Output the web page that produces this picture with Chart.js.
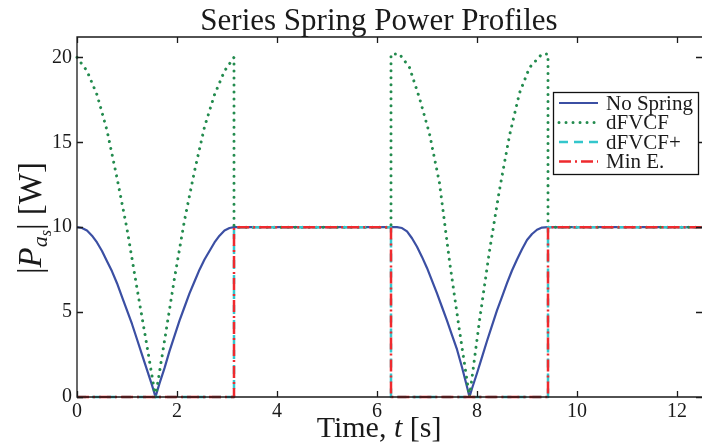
<!DOCTYPE html>
<html lang="en">
<head>
  <meta charset="UTF-8">
  <title>Series Spring Power Profiles</title>
  <script src="https://cdn.jsdelivr.net/npm/chart.js"></script>
  <style>
    body { margin: 0; background: #fff; }
    .grafico { width: 702px; height: 446px; }
  </style>
</head>
<body>
  <div class="grafico"><canvas id="id_grafico"></canvas></div>

<script>
// time axis [s] and actuator power |P_as| [W] for each profile
const tNoSpring = [0, 0.1, 0.2, 0.3, 0.4, 0.5, 0.6, 0.7, 0.8, 0.9, 1.0, 1.1, 1.2, 1.3, 1.4, 1.5, 1.57,
                   1.65, 1.75, 1.85, 1.95, 2.05, 2.15, 2.25, 2.35, 2.45, 2.55, 2.65, 2.75, 2.85, 2.95, 3.05, 3.14,
                   6.28, 6.4, 6.5, 6.6, 6.7, 6.8, 6.9, 7.0, 7.1, 7.2, 7.3, 7.4, 7.5, 7.6, 7.7, 7.8, 7.85,
                   7.9, 8.0, 8.1, 8.2, 8.3, 8.4, 8.5, 8.6, 8.7, 8.8, 8.9, 9.0, 9.1, 9.2, 9.3, 9.42, 12.57];
const pNoSpring = [10, 9.95, 9.8, 9.5, 9.1, 8.6, 8.0, 7.4, 6.7, 5.9, 5.1, 4.3, 3.4, 2.5, 1.6, 0.7, 0,
                   0.8, 1.7, 2.7, 3.6, 4.5, 5.3, 6.1, 6.8, 7.5, 8.1, 8.6, 9.1, 9.5, 9.8, 9.95, 10,
                   10, 10, 9.95, 9.75, 9.35, 8.85, 8.25, 7.6, 6.85, 6.1, 5.3, 4.5, 3.65, 2.8, 1.75, 0.6, 0,
                   0.5, 1.4, 2.35, 3.3, 4.2, 5.1, 5.9, 6.7, 7.45, 8.1, 8.7, 9.25, 9.6, 9.85, 9.98, 10, 10];

const tDfvcf = [0, 0.2, 0.4, 0.6, 0.8, 1.0, 1.2, 1.4, 1.57, 1.75, 1.95, 2.15, 2.35, 2.55, 2.75, 2.95, 3.14, 3.14,
                6.28, 6.28, 6.45, 6.65, 6.85, 7.05, 7.25, 7.45, 7.65, 7.85, 8.05, 8.25, 8.45, 8.65, 8.85, 9.05, 9.3, 9.42, 9.42, 12.57];
const pDfvcf = [20, 19.2, 17.8, 15.7, 12.9, 9.9, 6.4, 3.0, 0, 3.3, 7.0, 10.4, 13.3, 15.9, 17.8, 19.2, 20, 10,
                10, 20.2, 20.2, 19.4, 17.6, 15.5, 12.6, 8.0, 3.9, 0, 4.5, 8.6, 12.2, 15.4, 17.9, 19.4, 20.2, 20.2, 10, 10];

const tStep = [0, 3.14, 3.14, 6.28, 6.28, 9.42, 9.42, 12.57];
const pDfvcfPlus = [0, 0, 10, 10, 0, 0, 10, 10];
const pMinE = [0, 0, 10, 10, 0, 0, 10, 10];

const xTicks = [0, 2, 4, 6, 8, 10, 12];
const yTicks = [0, 5, 10, 15, 20];

const serif = '"Liberation Serif", "Times New Roman", serif';

function pontos(t, p) {
  var out = [];
  for (var i = 0; i < t.length; i++) out.push({ x: t[i], y: p[i] });
  return out;
}

// line styles shared by the plot and the legend
const estilos = [
  { label: 'No Spring', color: '#3b4fa3', width: 2.2, dash: [], cap: 'butt' },
  { label: 'dFVCF', color: '#238b4e', width: 3, dash: [0.01, 7], cap: 'round' },
  { label: 'dFVCF+', color: '#33c6cc', width: 2.5, dash: [9, 6], cap: 'butt' },
  { label: 'Min E.', color: '#ee2a2e', width: 2.5, dash: [12, 4, 2, 4], cap: 'butt' }
];
const series = [pontos(tNoSpring, pNoSpring), pontos(tDfvcf, pDfvcf), pontos(tStep, pDfvcfPlus), pontos(tStep, pMinE)];

// draws a list of text runs (mixed fonts / subscripts) centred on x
function textoMisto(ctx, runs, x, y) {
  var total = 0;
  runs.forEach(r => { ctx.font = r.font; total += ctx.measureText(r.text).width; });
  var cx = x - total / 2;
  ctx.textAlign = 'left';
  ctx.textBaseline = 'alphabetic';
  runs.forEach(r => {
    ctx.font = r.font;
    ctx.fillText(r.text, cx, y + (r.dy || 0));
    cx += ctx.measureText(r.text).width;
  });
}

const molduraPlugin = {
  id: 'moldura',
  afterDraw(chart) {
    const ctx = chart.ctx;
    const a = chart.chartArea;
    const sx = chart.scales.x, sy = chart.scales.y;
    ctx.save();
    ctx.fillStyle = '#1a1a1a';
    ctx.strokeStyle = '#1a1a1a';
    ctx.lineWidth = 1.3;

    // box (right edge falls just outside the canvas)
    ctx.beginPath();
    ctx.moveTo(a.right + 2, a.top); ctx.lineTo(a.left, a.top);
    ctx.lineTo(a.left, a.bottom); ctx.lineTo(a.right + 2, a.bottom);
    xTicks.forEach(v => {
      var px = Math.round(sx.getPixelForValue(v)) + 0.5;
      ctx.moveTo(px, a.bottom); ctx.lineTo(px, a.bottom - 6);
      ctx.moveTo(px, a.top); ctx.lineTo(px, a.top + 6);
    });
    yTicks.forEach(v => {
      var py = Math.round(sy.getPixelForValue(v)) + 0.5;
      ctx.moveTo(a.left, py); ctx.lineTo(a.left + 6, py);
      ctx.moveTo(a.right, py); ctx.lineTo(a.right - 6, py);
    });
    ctx.stroke();

    // title
    textoMisto(ctx, [{ text: 'Series Spring Power Profiles', font: '31px ' + serif }], 379, 30);

    // x axis label
    textoMisto(ctx, [
      { text: 'Time, ', font: '30px ' + serif },
      { text: 't', font: 'italic 30px ' + serif },
      { text: ' [s]', font: '30px ' + serif }
    ], 379, 437);

    // y axis label, rotated
    ctx.save();
    ctx.translate(41, 218);
    ctx.rotate(-Math.PI / 2);
    textoMisto(ctx, [
      { text: '|', font: '33px ' + serif },
      { text: 'P', font: 'italic 33px ' + serif },
      { text: 'a', font: 'italic 22px ' + serif, dy: 6 },
      { text: 's', font: 'italic 16px ' + serif, dy: 10 },
      { text: '| [W]', font: '33px ' + serif }
    ], 0, 0);
    ctx.restore();

    // legend
    ctx.fillStyle = '#fff';
    ctx.fillRect(553.5, 92.5, 145, 82);
    ctx.lineWidth = 1.3;
    ctx.strokeStyle = '#111';
    ctx.setLineDash([]);
    ctx.strokeRect(553.5, 92.5, 145, 82);
    var linhas = [103, 122.5, 142, 161.5];
    estilos.forEach((e, i) => {
      ctx.beginPath();
      ctx.strokeStyle = e.color;
      ctx.lineWidth = e.width;
      ctx.lineCap = e.cap;
      ctx.setLineDash(e.dash);
      ctx.moveTo(559, linhas[i]); ctx.lineTo(598, linhas[i]);
      ctx.stroke();
      ctx.setLineDash([]);
      ctx.fillStyle = '#1a1a1a';
      ctx.font = '21px ' + serif;
      ctx.textAlign = 'left';
      ctx.textBaseline = 'middle';
      ctx.fillText(e.label, 606, linhas[i] + 1);
    });
    ctx.restore();
  }
};

const ctx = document.getElementById('id_grafico').getContext('2d');
var graficoPotencia = new Chart(ctx, {
  type: 'line',
  data: {
    datasets: estilos.map((e, i) => ({
      label: e.label,
      data: series[i],
      borderColor: e.color,
      backgroundColor: e.color,
      borderWidth: e.width,
      borderDash: e.dash,
      borderCapStyle: e.cap,
      borderJoinStyle: 'round',
      pointRadius: 0,
      tension: 0,
      fill: false,
      clip: false,
      order: 4 - i
    }))
  },
  options: {
    responsive: true,
    maintainAspectRatio: false,
    animation: false,
    layout: { padding: { top: 37, right: 0, left: 0, bottom: 0 } },
    plugins: {
      legend: { display: false },
      title: { display: false },
      tooltip: { enabled: false }
    },
    scales: {
      x: {
        type: 'linear',
        min: 0,
        max: 12.5,
        grid: { display: false, drawTicks: false },
        border: { display: false },
        afterBuildTicks: s => { s.ticks = xTicks.map(v => ({ value: v })); },
        afterFit: s => { s.height = 49; },
        ticks: {
          autoSkip: false,
          maxRotation: 0,
          padding: 3,
          color: '#1a1a1a',
          font: { family: serif, size: 20 }
        }
      },
      y: {
        min: 0,
        max: 21.2,
        grid: { display: false, drawTicks: false },
        border: { display: false },
        afterBuildTicks: s => { s.ticks = yTicks.map(v => ({ value: v })); },
        afterFit: s => { s.width = 77; },
        ticks: {
          padding: 5,
          color: '#1a1a1a',
          font: { family: serif, size: 20 }
        }
      }
    }
  },
  plugins: [molduraPlugin]
});
</script>
</body>
</html>
